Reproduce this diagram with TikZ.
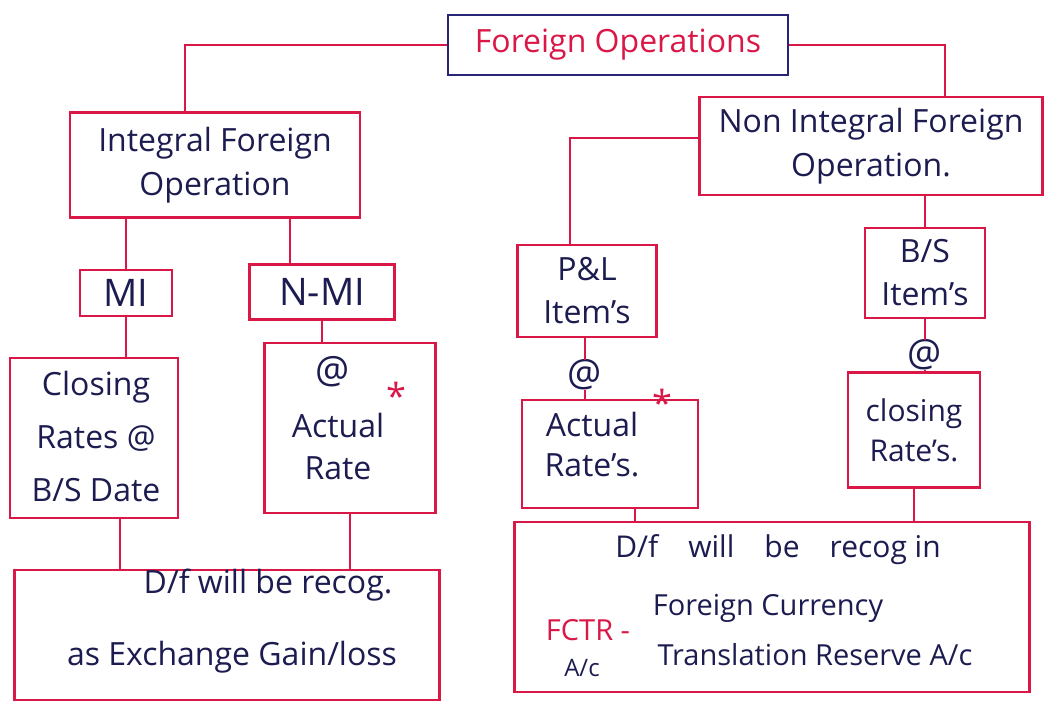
\documentclass[tikz,border=0pt]{standalone}
\usepackage{fontspec}
\setmainfont{Open Sans}
\definecolor{boxred}{RGB}{218,24,72}
\definecolor{ink}{RGB}{28,28,80}
\definecolor{boxblue}{RGB}{40,36,120}
\begin{document}
\begin{tikzpicture}[x=1pt,y=-1pt,
  box/.style={draw=boxred,line width=2.8pt,align=center,text=ink,inner sep=2pt},
  txt/.style={text=ink,inner sep=1pt,align=center},
  star/.style={text=boxred,inner sep=0pt,font=\fontsize{36}{36}\selectfont},
  atsign/.style={text=ink,inner sep=0pt,font=\fontsize{38}{38}\selectfont},
  link/.style={draw=boxred,line width=2.8pt},
  every node/.append style={font=\fontsize{32}{44}\selectfont}]
\useasboundingbox[fill=white] (0,0) rectangle (1047,707);
% top
\node[box,draw=boxblue,text=boxred,minimum width=340pt,minimum height=60pt] (fo) at (618,45) {Foreign Operations};
\node[box,minimum width=290pt,minimum height=105pt] (ifo) at (215,165) {Integral Foreign\\Operation};
\node[box,minimum width=343pt,minimum height=98pt] (nifo) at (871,146) {Non Integral Foreign\\Operation.};
% left branch
\node[box,minimum width=92pt,minimum height=46pt,inner sep=0pt,font=\fontsize{38}{38}\selectfont] (mi) at (126,293) {MI};
\node[box,minimum width=145pt,minimum height=55pt,inner sep=0pt,font=\fontsize{38}{38}\selectfont] (nmi) at (322,292) {N-MI};
\node[box,minimum width=168pt,minimum height=160pt] (cr) at (94,438) {};
\node[txt,font=\fontsize{32}{53}\selectfont] (crtxt) at (96,436) {Closing\\Rates @\\B/S Date};
\node[box,minimum width=171pt,minimum height=170pt] (ar) at (350,428) {};
\node[atsign] (arat) at (333,372) {@};
\node[txt,font=\fontsize{32}{42}\selectfont] (artxt) at (338,446) {Actual\\Rate};
\node[star] (arst) at (396,396) {*};
\node[box,minimum width=425pt,minimum height=130pt] (dl) at (227,635) {};
\node[txt] (dl1) at (268,585) {D/f will be recog.};
\node[txt] (dl2) at (232,657) {as Exchange Gain/loss};
% right branch
\node[box,minimum width=139pt,minimum height=92pt,font=\fontsize{32}{43}\selectfont] (pl) at (587,291) {P\&L\\Item's};
\node[box,minimum width=120pt,minimum height=90pt,font=\fontsize{32}{43}\selectfont] (bs) at (925,273) {B/S\\Item's};
\node[atsign] (at1) at (585,375) {@};
\node[atsign] (at2) at (925,355) {@};
\node[box,minimum width=176pt,minimum height=108pt] (ars) at (610,454) {};
\node[txt,font=\fontsize{32}{40}\selectfont] (arstxt) at (592,445) {Actual\\Rate's.};
\node[star] (arsst) at (662,403) {*};
\node[box,minimum width=132pt,minimum height=115pt,font=\fontsize{30}{40}\selectfont] (clr) at (914,430) {closing\\Rate's.};
\node[box,minimum width=515pt,minimum height=170pt] (dr) at (772,607) {};
\node[txt,font=\fontsize{30}{36}\selectfont] (dr1) at (778,550) {D/f\quad will\quad be\quad recog in};
\node[text=boxred,inner sep=1pt,font=\fontsize{29}{36}\selectfont] (fctr) at (588,630) {FCTR -};
\node[txt,font=\fontsize{24}{28}\selectfont] (drac) at (582,668) {A/c};
\node[txt,font=\fontsize{29}{36}\selectfont] (dr2) at (768,608) {Foreign Currency};
\node[txt,font=\fontsize{29}{36}\selectfont] (dr3) at (815,655) {Translation Reserve A/c};
% helper coordinates
\coordinate (ifoL) at (185,0);
\coordinate (nifoR) at (945,0);
\coordinate (nmiT) at (290,0);
\coordinate (crB) at (120,0);
\coordinate (plT) at (570,0);
\coordinate (arsB) at (635,0);
% connectors
\draw[link] (fo.west) -| (ifoL |- ifo.north);
\draw[link] (fo.east) -| (nifoR |- nifo.north);
\draw[link] (mi.north |- ifo.south) -- (mi.north);
\draw[link] (nmiT |- ifo.south) -- (nmiT |- nmi.north);
\draw[link] (mi.south) -- (mi.south |- cr.north);
\draw[link] (nmi.south) -- (nmi.south |- ar.north);
\draw[link] (crB |- cr.south) -- (crB |- dl.north);
\draw[link] (ar.south) -- (ar.south |- dl.north);
\draw[link] ([yshift=8pt]nifo.west) -| (plT |- pl.north);
\draw[link] (bs.north |- nifo.south) -- (bs.north);
\draw[link] (at1.north |- pl.south) -- (at1.north);
\draw[link] (at1.south) -- (at1.south |- ars.north);
\draw[link] (at2.north |- bs.south) -- (at2.north);
\draw[link] (at2.south) -- (at2.south |- clr.north);
\draw[link] (arsB |- ars.south) -- (arsB |- dr.north);
\draw[link] (clr.south) -- (clr.south |- dr.north);
\end{tikzpicture}
\end{document}
